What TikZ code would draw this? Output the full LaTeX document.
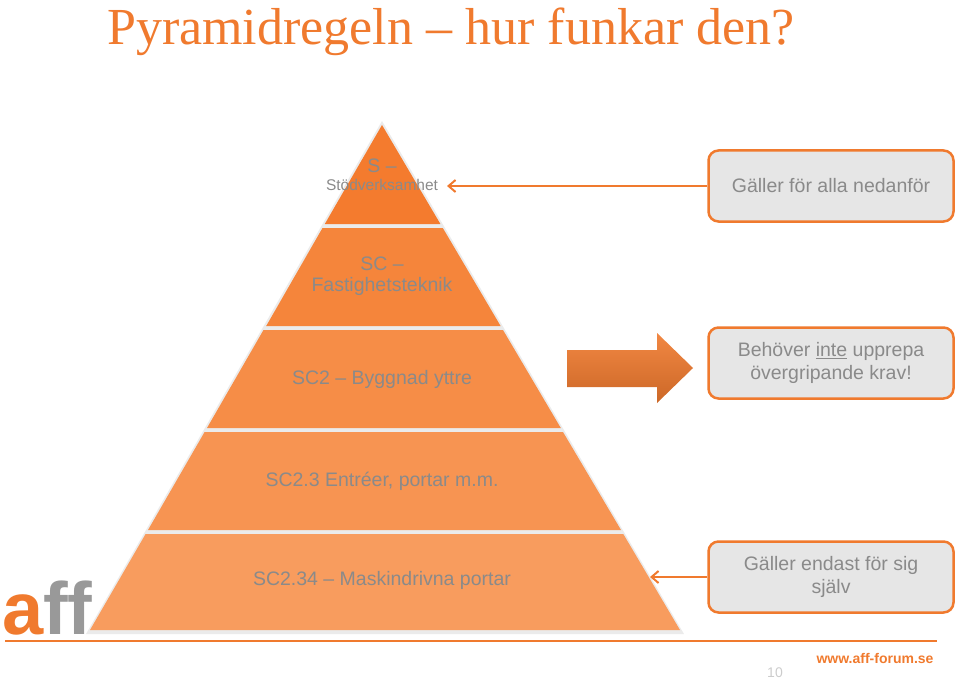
\documentclass[tikz,border=0pt]{standalone}
\usepackage{fontspec}
\setmainfont{Liberation Sans}
\newfontfamily\titlefont{Liberation Serif}
\usetikzlibrary{arrows.meta}
\definecolor{affOrange}{HTML}{F07A2E}
\definecolor{bandA}{HTML}{F47B2E}
\definecolor{bandB}{HTML}{F5853B}
\definecolor{bandC}{HTML}{F68D47}
\definecolor{bandD}{HTML}{F79452}
\definecolor{bandE}{HTML}{F89C5E}
\definecolor{boxGray}{HTML}{E6E6E6}
\definecolor{txtGray}{HTML}{8A8A8A}
\tikzset{
  infobox/.style={draw=affOrange, line width=2.5pt, fill=boxGray, rounded corners=10pt,
    minimum width=245pt, minimum height=71pt, align=center, text=txtGray, font=\fontsize{19.5}{23}\selectfont},
  bandtext/.style={text=txtGray, align=center, font=\fontsize{19.5}{21}\selectfont},
  pointer/.style={draw=affOrange, line width=2pt, -{Straight Barb[length=7pt,width=12pt]}}
}
\begin{document}
\begin{tikzpicture}[x=1pt,y=-1pt]
\useasboundingbox (0,0) rectangle (960,679);
% title
\node[anchor=base west, inner sep=0, text=affOrange, font=\titlefont\fontsize{52}{54}\selectfont] (title) at (107,45) {Pyramidregeln – hur funkar den?};
% pyramid bands
\fill[black!8] (382,121) -- (86,634) -- (684,634) -- cycle;
\fill[bandA] (382,125) -- (324.8,224) -- (440.4,224) -- cycle;
\fill[bandB] (322.5,228) -- (266.2,326) -- (500.6,326) -- (442.8,228) -- cycle;
\fill[bandC] (263.5,330) -- (207,428) -- (560.8,428) -- (503,330) -- cycle;
\fill[bandD] (204.6,432) -- (148,530) -- (621,530) -- (563,432) -- cycle;
\fill[bandE] (145.6,534) -- (90,630) -- (680,630) -- (623.3,534) -- cycle;
\node[bandtext, font=\fontsize{15.5}{18}\selectfont] (s) at (382,175) {{\fontsize{19.5}{21}\selectfont S –}\\Stödverksamhet};
\node[bandtext] (sc) at (382,276) {SC –\\Fastighetsteknik};
\node[bandtext] (sc2) at (382,379) {SC2 – Byggnad yttre};
\node[bandtext] (sc23) at (382,481) {SC2.3 Entréer, portar m.m.};
\node[bandtext] (sc234) at (382,580) {SC2.34 – Maskindrivna portar};
% boxes
\node[infobox] (all) at (831,186) {Gäller för alla nedanför};
\node[infobox] (inte) at (831,363) {Behöver \underline{inte} upprepa\\övergripande krav!};
\node[infobox] (sig) at (831,577) {Gäller endast för sig\\själv};
\coordinate (sEnd) at (447,186);
\coordinate (sigEnd) at (650,577);
\draw[pointer] (all.west) -- (sEnd);
\draw[pointer] (sig.west) -- (sigEnd);
% block arrow
\shade[top color=affOrange!90!white, bottom color=affOrange!85!black]
  (567,350) -- (657,350) -- (657,333) -- (693,368) -- (657,403) -- (657,387) -- (567,387) -- cycle;
% footer
\draw[affOrange, line width=1.5pt] (5,641) -- (937,641);
\node[anchor=east, text=affOrange, font=\bfseries\fontsize{14}{16}\selectfont] (web) at (937,658) {www.aff-forum.se};
\node[text=black!20, font=\fontsize{14}{16}\selectfont] (page) at (775,673) {10};
\node[anchor=base west, inner sep=0, font=\bfseries\fontsize{74}{74}\selectfont] (logo) at (2,634) {\textcolor{affOrange}{a}\textcolor{black!40}{ff}};
\end{tikzpicture}
\end{document}
